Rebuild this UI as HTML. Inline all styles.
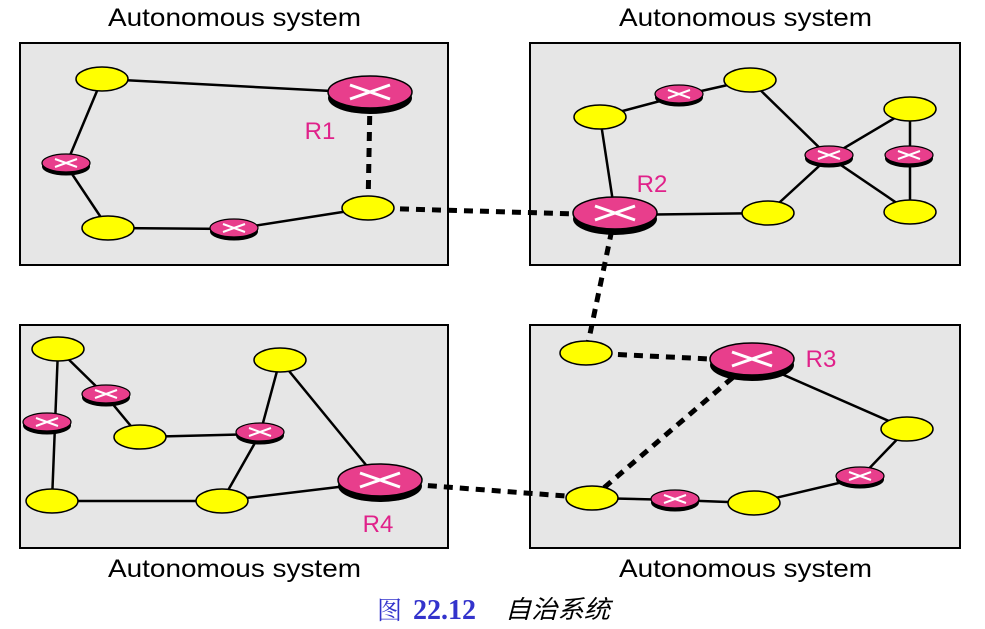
<!DOCTYPE html>
<html><head><meta charset="utf-8"><style>body{margin:0;background:#fff}svg{display:block}</style></head><body>
<svg width="985" height="629" viewBox="0 0 985 629" xmlns="http://www.w3.org/2000/svg">
<g fill="#e6e6e6" stroke="#000" stroke-width="2">
<rect x="20" y="43" width="428" height="222"/><rect x="530" y="43" width="430" height="222"/>
<rect x="20" y="325" width="428" height="223"/><rect x="530" y="325" width="430" height="223"/>
</g>
<g font-family="Liberation Sans, sans-serif" font-size="25" fill="#000">
<text x="108" y="26" textLength="253" lengthAdjust="spacingAndGlyphs">Autonomous system</text><text x="619" y="26" textLength="253" lengthAdjust="spacingAndGlyphs">Autonomous system</text>
<text x="108" y="577" textLength="253" lengthAdjust="spacingAndGlyphs">Autonomous system</text><text x="619" y="577" textLength="253" lengthAdjust="spacingAndGlyphs">Autonomous system</text>
</g>
<g stroke="#000" stroke-width="2.5" fill="none">
<path d="M102 79L370 93M102 79L66 165L108 228L234 229L368 208"/>
<path d="M600 117L679 96L750 80L829 157L910 109L910 212L829 157L768 213M600 117L615 215L768 213"/>
<path d="M752 361L907 429L860 478L754 503L675 500L592 498"/>
<path d="M58 349L106 396L140 437L260 434L280 360L380 482M58 349L52 501L222 501L380 482M260 434L222 501"/>
</g>
<g stroke="#000" stroke-width="5" stroke-dasharray="9 7" fill="none">
<path d="M370 100L368 208M368 208L615 215M615 215L586 353M586 353L752 361M592 498L752 361M380 482L592 498"/>
</g>
<g fill="#ffff00" stroke="#000" stroke-width="1.5">
<ellipse cx="102" cy="79" rx="26" ry="12"/><ellipse cx="108" cy="228" rx="26" ry="12"/><ellipse cx="368" cy="208" rx="26" ry="12"/>
<ellipse cx="600" cy="117" rx="26" ry="12"/><ellipse cx="750" cy="80" rx="26" ry="12"/><ellipse cx="768" cy="213" rx="26" ry="12"/><ellipse cx="910" cy="109" rx="26" ry="12"/><ellipse cx="910" cy="212" rx="26" ry="12"/>
<ellipse cx="586" cy="353" rx="26" ry="12"/><ellipse cx="907" cy="429" rx="26" ry="12"/><ellipse cx="592" cy="498" rx="26" ry="12"/><ellipse cx="754" cy="503" rx="26" ry="12"/>
<ellipse cx="58" cy="349" rx="26" ry="12"/><ellipse cx="140" cy="437" rx="26" ry="12"/><ellipse cx="280" cy="360" rx="26" ry="12"/><ellipse cx="52" cy="501" rx="26" ry="12"/><ellipse cx="222" cy="501" rx="26" ry="12"/>
</g>
<defs>
<g id="big"><ellipse cx="0" cy="6" rx="42" ry="16" fill="#000"/><ellipse cx="0" cy="0" rx="42" ry="16" fill="#e83e8c" stroke="#000" stroke-width="1.5"/><path d="M-20 -7L20 7M-20 7L20 -7" stroke="#fff" stroke-width="3"/></g>
<g id="sm"><ellipse cx="0" cy="3.5" rx="24" ry="9" fill="#000"/><ellipse cx="0" cy="0" rx="24" ry="9" fill="#e83e8c" stroke="#000" stroke-width="1.2"/><path d="M-11 -4L11 4M-11 4L11 -4" stroke="#fff" stroke-width="2"/></g>
</defs>
<use href="#sm" x="66" y="163"/><use href="#sm" x="234" y="228"/><use href="#big" x="370" y="92"/>
<use href="#sm" x="679" y="94"/><use href="#sm" x="829" y="155"/><use href="#sm" x="909" y="155"/><use href="#big" x="615" y="213"/>
<use href="#sm" x="675" y="499"/><use href="#sm" x="860" y="476"/><use href="#big" x="752" y="359"/>
<use href="#sm" x="106" y="394"/><use href="#sm" x="47" y="422"/><use href="#sm" x="260" y="432"/><use href="#big" x="380" y="480"/>
<g font-family="Liberation Sans, sans-serif" font-size="24" fill="#e0218a" text-anchor="middle">
<text x="320" y="139">R1</text><text x="652" y="192">R2</text><text x="821" y="367">R3</text><text x="378" y="532">R4</text>
</g>
<text x="377" y="619" font-family="Noto Serif CJK SC, serif" font-size="25" fill="#3333cc">图</text>
<text x="413" y="619" font-family="Liberation Serif, serif" font-weight="bold" font-size="28" fill="#3333cc">22.12</text>
<text x="505" y="618" font-family="Noto Sans CJK SC, sans-serif" font-style="italic" font-size="25" fill="#000" textLength="105" lengthAdjust="spacingAndGlyphs">自治系统</text>
</svg>
</body></html>
